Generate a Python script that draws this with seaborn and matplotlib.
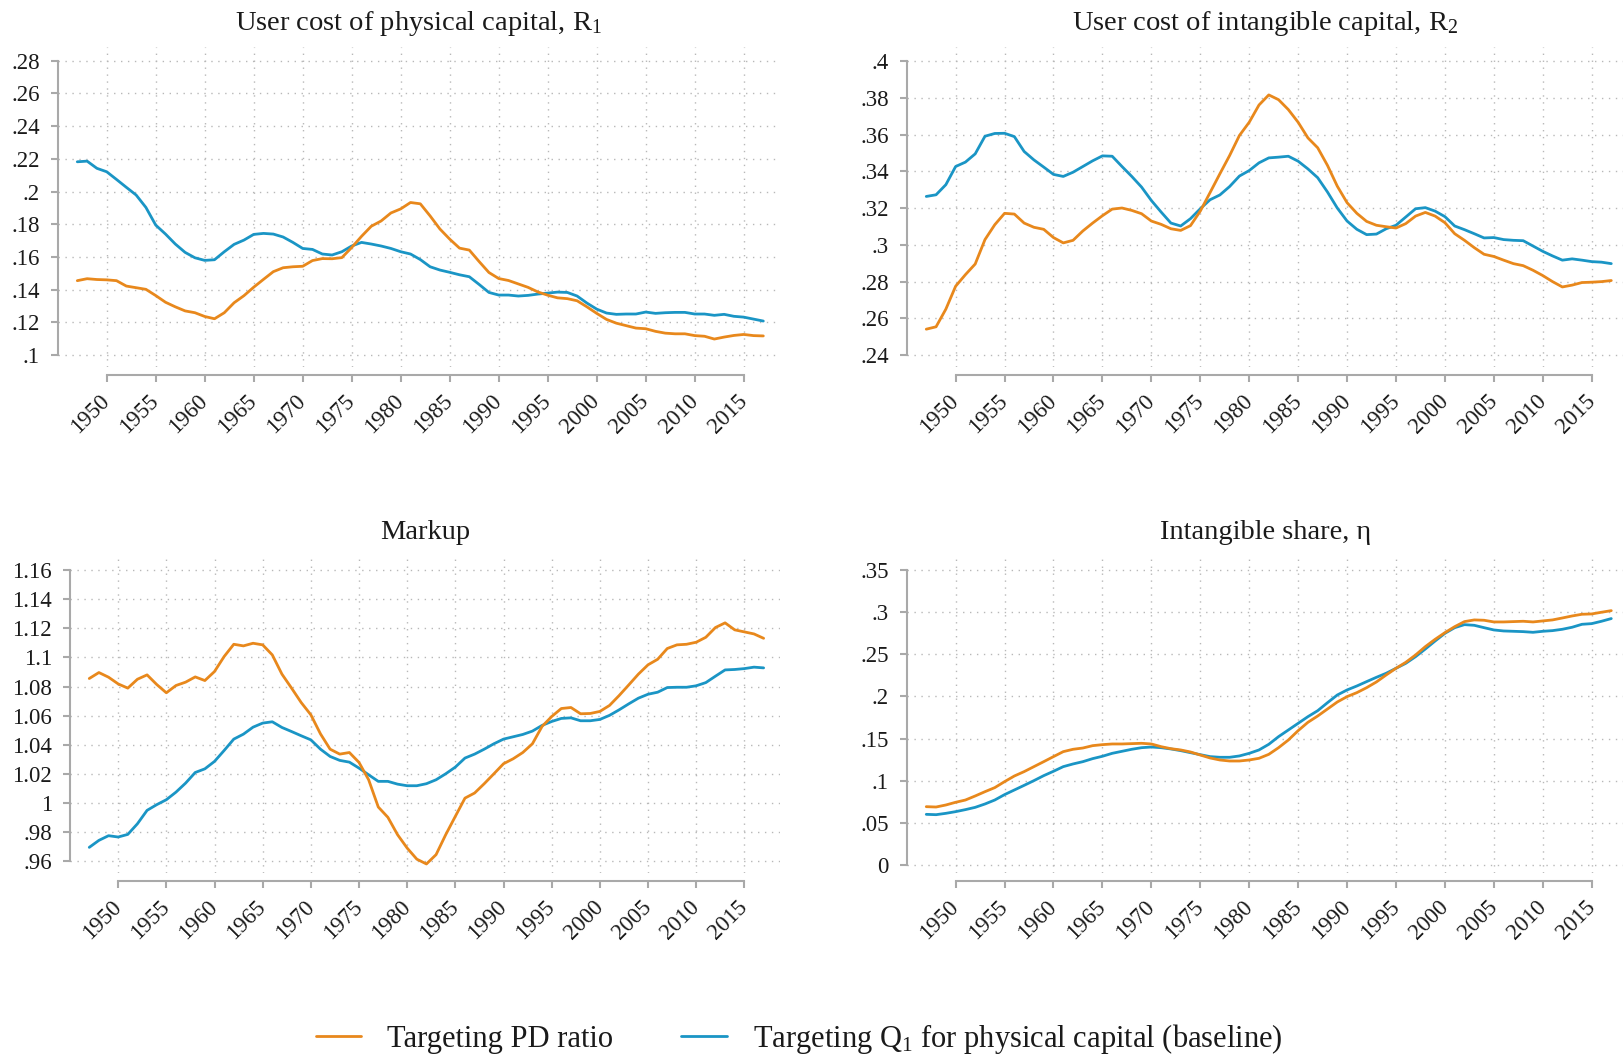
import numpy as np
import pandas as pd
import matplotlib as mpl
import matplotlib.pyplot as plt
import seaborn as sns
from matplotlib.ticker import FuncFormatter

# ---- data ----
years = list(range(1947, 2018))

r1_pd = [.1455, .1467, .1462,
         .1460, .1455, .1422, .1412, .1402, .1364, .1323, .1295, .1270, .1259,
         .1236, .1222, .1259, .1320, .1363, .1415, .1463, .1510, .1534, .1540,
         .1543, .1578, .1590, .1589, .1596, .1658, .1726, .1788, .1820, .1869,
         .1894, .1933, .1925, .1851, .1771, .1709, .1654, .1642, .1572, .1505,
         .1468, .1456, .1435, .1414, .1386, .1366, .1350, .1345, .1332, .1295,
         .1255, .1218, .1195, .1180, .1165, .1161, .1145, .1134, .1130, .1130,
         .1119, .1115, .1098, .1110, .1120, .1126, .1119, .1117]
r1_q1 = [.2182, .2186, .2142,
         .2121, .2074, .2026, .1979, .1903, .1795, .1740, .1679, .1628, .1595,
         .1579, .1583, .1632, .1677, .1703, .1738, .1744, .1740, .1722, .1689,
         .1652, .1646, .1618, .1612, .1632, .1667, .1689, .1679, .1667, .1652,
         .1632, .1618, .1584, .1540, .1520, .1506, .1491, .1479, .1432, .1383,
         .1367, .1367, .1361, .1365, .1373, .1379, .1385, .1383, .1361, .1318,
         .1281, .1257, .1249, .1251, .1251, .1263, .1255, .1259, .1261, .1261,
         .1251, .1251, .1243, .1249, .1237, .1232, .1220, .1208]

r2_pd = [.2541, .2554, .2650,
         .2775, .2838, .2896, .3029, .3110, .3172, .3168, .3119, .3096, .3085,
         .3040, .3011, .3025, .3076, .3119, .3159, .3195, .3201, .3188, .3170,
         .3130, .3112, .3088, .3079, .3105, .3184, .3285, .3387, .3487, .3596,
         .3668, .3762, .3817, .3791, .3737, .3668, .3583, .3529, .3433, .3320,
         .3230, .3172, .3128, .3107, .3099, .3092, .3116, .3157, .3177, .3157,
         .3121, .3061, .3025, .2985, .2949, .2937, .2917, .2898, .2887, .2862,
         .2833, .2800, .2771, .2781, .2795, .2797, .2800, .2806]
r2_q1 = [.3264, .3273, .3328,
         .3427, .3451, .3496, .3592, .3607, .3608, .3590, .3509, .3463, .3424,
         .3384, .3373, .3396, .3427, .3458, .3485, .3483, .3427, .3373, .3315,
         .3242, .3179, .3119, .3103, .3143, .3197, .3246, .3272, .3318, .3375,
         .3405, .3447, .3474, .3478, .3483, .3456, .3414, .3366, .3288, .3201,
         .3130, .3085, .3056, .3059, .3088, .3107, .3152, .3197, .3203, .3184,
         .3154, .3103, .3083, .3061, .3038, .3040, .3029, .3025, .3023, .2994,
         .2965, .2940, .2917, .2924, .2917, .2909, .2906, .2898]

markup_pd = [1.0855, 1.0896, 1.0864,
             1.0818, 1.0789, 1.0850, 1.0880, 1.0814, 1.0757, 1.0807, 1.0830, 1.0866, 1.0841,
             1.0903, 1.1006, 1.1090, 1.1079, 1.1097, 1.1086, 1.1017, 1.0885, 1.0789, 1.0690,
             1.0606, 1.0475, 1.0370, 1.0336, 1.0347, 1.0279, 1.0160, .9973, .9902, .9783,
             .9691, .9615, .9582, .9646, .9783, .9909, 1.0034, 1.0069, 1.0133, 1.0201,
             1.0270, 1.0304, 1.0347, 1.0407, 1.0526, 1.0594, 1.0649, 1.0656, 1.0613, 1.0615,
             1.0629, 1.0670, 1.0738, 1.0811, 1.0885, 1.0949, 1.0987, 1.1061, 1.1086, 1.1090,
             1.1104, 1.1138, 1.1205, 1.1237, 1.1189, 1.1175, 1.1161, 1.1131]
markup_q1 = [.9696, .9744, .9776,
             .9767, .9785, .9858, .9950, .9989, 1.0023, 1.0075, 1.0137, 1.0210, 1.0235,
             1.0286, 1.0361, 1.0439, 1.0473, 1.0521, 1.0549, 1.0558, 1.0519, 1.0491, 1.0462,
             1.0434, 1.0370, 1.0320, 1.0293, 1.0281, 1.0240, 1.0194, 1.0149, 1.0149, 1.0130,
             1.0119, 1.0119, 1.0133, 1.0160, 1.0201, 1.0247, 1.0309, 1.0336, 1.0370, 1.0407,
             1.0439, 1.0455, 1.0471, 1.0494, 1.0533, 1.0560, 1.0581, 1.0585, 1.0565, 1.0565,
             1.0574, 1.0602, 1.0640, 1.0681, 1.0720, 1.0747, 1.0761, 1.0793, 1.0795, 1.0795,
             1.0805, 1.0827, 1.0871, 1.0914, 1.0917, 1.0923, 1.0933, 1.0928]

eta_pd = [.0692, .0688, .0712,
          .0744, .0771, .0819, .0870, .0918, .0989, .1056, .1108, .1167, .1226,
          .1286, .1345, .1373, .1388, .1416, .1428, .1436, .1436, .1440, .1444,
          .1436, .1404, .1380, .1365, .1341, .1305, .1270, .1246, .1234, .1234,
          .1246, .1266, .1313, .1392, .1483, .1594, .1693, .1768, .1851, .1934,
          .1998, .2045, .2104, .2172, .2255, .2334, .2405, .2492, .2591, .2678,
          .2757, .2828, .2888, .2908, .2904, .2884, .2884, .2888, .2892, .2884,
          .2896, .2908, .2931, .2955, .2975, .2979, .2999, .3018]
eta_q1 = [.0601, .0597, .0613,
          .0633, .0657, .0684, .0724, .0771, .0835, .0890, .0945, .1001, .1060,
          .1112, .1167, .1199, .1226, .1262, .1290, .1325, .1349, .1373, .1392,
          .1400, .1392, .1377, .1357, .1333, .1309, .1286, .1278, .1278, .1294,
          .1325, .1365, .1432, .1523, .1602, .1681, .1760, .1831, .1926, .2017,
          .2077, .2124, .2176, .2227, .2275, .2334, .2393, .2472, .2563, .2658,
          .2749, .2816, .2852, .2844, .2816, .2789, .2777, .2773, .2769, .2761,
          .2773, .2781, .2797, .2821, .2856, .2864, .2892, .2924]

titles = ["User cost of physical capital, R$_\\mathregular{1}$",
          "User cost of intangible capital, R$_\\mathregular{2}$",
          "Markup",
          "Intangible share, \u03b7"]
yticks = [[.10, .12, .14, .16, .18, .20, .22, .24, .26, .28],
          [.24, .26, .28, .30, .32, .34, .36, .38, .40],
          [.96, .98, 1.00, 1.02, 1.04, 1.06, 1.08, 1.10, 1.12, 1.14, 1.16],
          [0, .05, .10, .15, .20, .25, .30, .35]]
xticks = list(range(1950, 2016, 5))
series_names = ["Targeting PD ratio",
                "Targeting Q$_\\mathregular{1}$ for physical capital (baseline)"]

ORANGE = "#e8881c"
BLUE = "#1a95c5"
GREY = "#a9a9a9"

sns.set_theme(style="white")
plt.rcParams['font.family'] = ['Liberation Serif', 'DejaVu Serif']
plt.rcParams['mathtext.fontset'] = 'custom'
plt.rcParams['mathtext.rm'] = 'Liberation Serif'
plt.rcParams['mathtext.it'] = 'Liberation Serif:italic'
plt.rcParams['text.color'] = '#1a1a1a'

W, H = 1624, 1060
fig = plt.figure(figsize=(W / 100, H / 100), dpi=100)


def box(l, t, r, b):
    return [l / W, 1 - b / H, (r - l) / W, (b - t) / H]


rects = [box(57.7, 47, 779, 367), box(906.7, 47, 1624, 367),
         box(70, 555.7, 780, 873), box(906.7, 555.7, 1624, 873)]
ylims = [(.0927, .2884), (.2335, .4078), (.952, 1.1698), (-.0095, .367)]
xlims = [(1945, 2018.6), (1945, 2018.3), (1945, 2018.7), (1945, 2018.3)]
pd_series = [r1_pd, r2_pd, markup_pd, eta_pd]
q1_series = [r1_q1, r2_q1, markup_q1, eta_q1]


def stata_fmt(v, pos=None):
    s = f"{v:g}"
    if s.startswith("0."):
        s = s[1:]
    return s


for i in range(4):
    ax = fig.add_axes(rects[i])
    df = pd.DataFrame({
        "year": years * 2,
        "value": pd_series[i] + q1_series[i],
        "series": ["pd"] * len(years) + ["q1"] * len(years),
    })
    sns.lineplot(data=df, x="year", y="value", hue="series",
                 hue_order=["q1", "pd"], palette=[BLUE, ORANGE],
                 linewidth=2.0, legend=False, ax=ax)

    ax.set_xlim(*xlims[i])
    ax.set_ylim(*ylims[i])
    ax.set_xticks(xticks)
    ax.set_yticks(yticks[i])
    ax.yaxis.set_major_formatter(FuncFormatter(stata_fmt))
    ax.set_xlabel("")
    ax.set_ylabel("")
    ax.grid(True, color="#b8b8b8", linestyle=(0, (1, 4)), linewidth=1.0)

    for side in ["top", "right"]:
        ax.spines[side].set_visible(False)
    ax.spines["left"].set_bounds(yticks[i][0], yticks[i][-1])
    ax.spines["bottom"].set_bounds(xticks[0], xticks[-1])
    ax.spines["bottom"].set_position(("outward", 6))
    for side in ["left", "bottom"]:
        ax.spines[side].set_color(GREY)
        ax.spines[side].set_linewidth(1.5)

    ax.tick_params(axis="both", bottom=True, left=True, length=5, width=1.5,
                   color=GREY, labelsize=16.5, labelcolor="#1a1a1a")
    ax.tick_params(axis="y", pad=8)
    ax.tick_params(axis="x", pad=11)
    for lab in ax.get_xticklabels():
        lab.set_rotation(45)
        lab.set_ha("right")
        lab.set_va("center")
        lab.set_rotation_mode("anchor")

    ax.set_title(titles[i], fontsize=20.5, pad=12)

handles = [mpl.lines.Line2D([], [], color=ORANGE, lw=2.0),
           mpl.lines.Line2D([], [], color=BLUE, lw=2.0)]
fig.legend(handles, series_names, loc="center",
           bbox_to_anchor=(799 / W, 1 - 1039 / H), ncol=2, frameon=False,
           fontsize=22, handlelength=1.5, handletextpad=0.85, columnspacing=2.2)

fig.savefig("out.png", dpi=100)
